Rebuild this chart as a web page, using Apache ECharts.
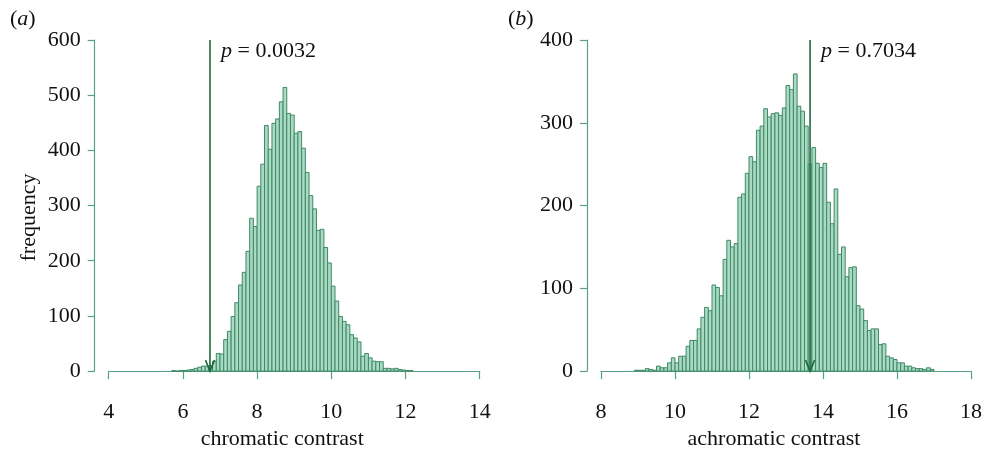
<!DOCTYPE html>
<html>
<head>
<meta charset="utf-8">
<script src="https://cdn.jsdelivr.net/npm/echarts@6/dist/echarts.min.js"></script>
<style>
    html, body { margin: 0; padding: 0; background: #fff; }
    #main { width: 985px; height: 455px; }
</style>
</head>
<body>
<div id="main"></div>
<script>
    // histogram bins (width 0.1), counts
    var binWidth = 0.1;
    var chromaticStart = 5.7;
    var chromaticCounts = [1, 0, 1, 1, 2, 3, 5, 7, 9, 9, 10, 18, 32, 31, 57, 72, 99, 124, 156, 179,
        217, 277, 262, 335, 375, 445, 402, 449, 457, 488, 514, 467, 464, 431, 434, 404, 360, 318, 294, 255,
        257, 224, 196, 154, 127, 99, 90, 84, 66, 60, 53, 27, 32, 24, 18, 17, 17, 5, 5, 4,
        5, 3, 2, 1, 1];
    var achromaticStart = 8.9;
    var achromaticCounts = [1, 1, 1, 3, 2, 1, 6, 4, 4, 10, 16, 10, 18, 18, 30, 37, 37, 51, 65, 77,
        73, 104, 101, 91, 135, 158, 150, 154, 210, 214, 239, 259, 253, 291, 296, 317, 307, 311, 312, 309,
        318, 345, 340, 359, 320, 314, 296, 250, 270, 251, 246, 251, 204, 178, 220, 141, 150, 114, 125, 126,
        79, 75, 61, 49, 51, 51, 32, 33, 18, 16, 14, 10, 10, 6, 6, 4, 3, 3, 2, 4, 2];

    // observed values (arrows)
    var chromaticObserved = 6.73;
    var achromaticObserved = 13.65;
    var chromaticP = '0.0032';
    var achromaticP = '0.7034';

    var chromaticTicks = [4, 14, 2];   // min, max, interval
    var achromaticTicks = [8, 18, 2];
    var chromaticYMax = 600;
    var achromaticYMax = 400;

    var serif = 'Liberation Serif';
    var fs = 22;
    var axisColor = '#5a9f84';
    var barFill = '#acd9c4';
    var barStroke = '#3c8a66';
    var arrowColor = '#1d6a3c';

    function toBins(start, counts) {
        var out = [];
        for (var i = 0; i < counts.length; i++) {
            var x0 = +(start + i * binWidth).toFixed(2);
            out.push([x0, counts[i], +(x0 + binWidth).toFixed(2)]);
        }
        return out;
    }

    function histItem(params, api) {
        var p0 = api.coord([api.value(0), api.value(1)]);
        var p1 = api.coord([api.value(2), 0]);
        return {
            type: 'rect',
            shape: { x: p0[0], y: p0[1], width: p1[0] - p0[0], height: p1[1] - p0[1] },
            style: { fill: barFill, stroke: barStroke, lineWidth: 1 }
        };
    }

    function arrowItem(params, api) {
        var top = api.coord([api.value(0), api.value(1)]);
        var bot = api.coord([api.value(0), 0]);
        return {
            type: 'group',
            children: [
                { type: 'line', shape: { x1: top[0], y1: top[1], x2: bot[0], y2: bot[1] },
                  style: { stroke: arrowColor, lineWidth: 1.6 } },
                { type: 'polyline', shape: { points: [[bot[0] - 4.5, bot[1] - 11], [bot[0], bot[1]], [bot[0] + 4.5, bot[1] - 11]] },
                  style: { stroke: arrowColor, lineWidth: 1.6, fill: null } }
            ]
        };
    }

    function xAxisOf(gridIndex, ticks, name) {
        return {
            type: 'value', gridIndex: gridIndex,
            min: ticks[0], max: ticks[1], interval: ticks[2],
            offset: 12,
            axisLine: { lineStyle: { color: axisColor, width: 1.2 } },
            axisTick: { length: 8, lineStyle: { color: axisColor, width: 1.2 } },
            axisLabel: { margin: 18, fontFamily: serif, fontSize: fs, color: '#111' },
            splitLine: { show: false },
            name: name, nameLocation: 'middle', nameGap: 42,
            nameTextStyle: { fontFamily: serif, fontSize: fs, color: '#111', padding: [0, 24, 0, 0] }
        };
    }

    function yAxisOf(gridIndex, max, name) {
        var ax = {
            type: 'value', gridIndex: gridIndex,
            min: 0, max: max, interval: 100,
            offset: 14,
            axisLine: { show: true, lineStyle: { color: axisColor, width: 1.2 } },
            axisTick: { show: true, length: 7, lineStyle: { color: axisColor, width: 1.2 } },
            axisLabel: { margin: 14, fontFamily: serif, fontSize: fs, color: '#111' },
            splitLine: { show: false }
        };
        if (name) {
            ax.name = name;
            ax.nameLocation = 'middle';
            ax.nameRotate = 90;
            ax.nameGap = 54;
            ax.nameTextStyle = { fontFamily: serif, fontSize: fs, color: '#111', padding: [0, 24, 0, 0] };
        }
        return ax;
    }

    function label(text, left, top) {
        return {
            text: text, left: left, top: top, padding: 0,
            textStyle: {
                fontFamily: serif, fontSize: fs, fontWeight: 'normal', color: '#111',
                rich: { i: { fontFamily: serif, fontSize: fs, fontStyle: 'italic', color: '#111' } }
            }
        };
    }

    var myChart = echarts.init(document.getElementById('main'));
    var option = {
        animation: false,
        title: [
            label('({i|a})', 10, 8),
            label('({i|b})', 508, 8),
            label('{i|p} = ' + chromaticP, 221, 40),
            label('{i|p} = ' + achromaticP, 821, 40)
        ],
        grid: [
            { left: 108.7, top: 40, width: 371, height: 332 },
            { left: 601, top: 40, width: 371.3, height: 332 }
        ],
        xAxis: [
            xAxisOf(0, chromaticTicks, 'chromatic contrast'),
            xAxisOf(1, achromaticTicks, 'achromatic contrast')
        ],
        yAxis: [
            yAxisOf(0, chromaticYMax, 'frequency'),
            yAxisOf(1, achromaticYMax, null)
        ],
        series: [
            { type: 'custom', xAxisIndex: 0, yAxisIndex: 0, renderItem: histItem,
              encode: { x: [0, 2], y: 1 }, data: toBins(chromaticStart, chromaticCounts) },
            { type: 'custom', xAxisIndex: 1, yAxisIndex: 1, renderItem: histItem,
              encode: { x: [0, 2], y: 1 }, data: toBins(achromaticStart, achromaticCounts) },
            { type: 'custom', xAxisIndex: 0, yAxisIndex: 0, renderItem: arrowItem, z: 5,
              encode: { x: 0, y: 1 }, data: [[chromaticObserved, chromaticYMax]] },
            { type: 'custom', xAxisIndex: 1, yAxisIndex: 1, renderItem: arrowItem, z: 5,
              encode: { x: 0, y: 1 }, data: [[achromaticObserved, achromaticYMax]] }
        ]
    };
    myChart.setOption(option);
</script>
</body>
</html>
